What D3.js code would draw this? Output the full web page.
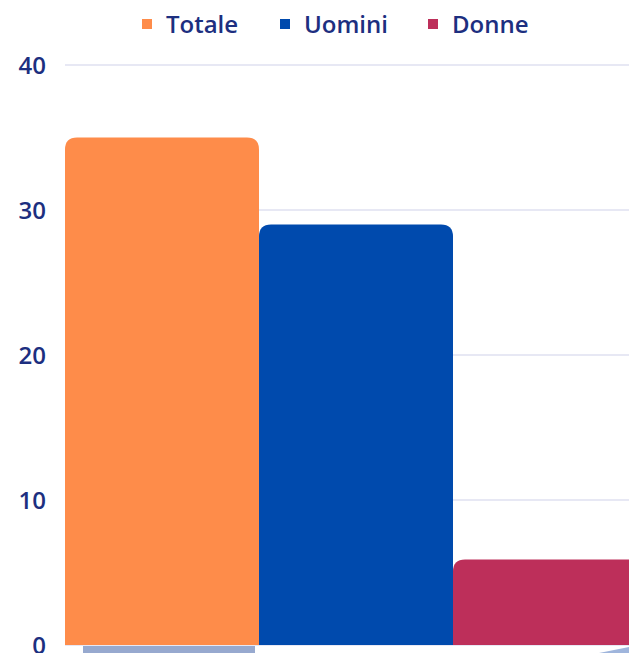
<html>
<head>
<script src="https://cdnjs.cloudflare.com/ajax/libs/d3/7.8.5/d3.min.js"></script>
<style>
  body { margin: 0; background: #fff; }
  svg { display: block; font-family: "Open Sans", "Noto Sans", sans-serif; }
  .tick text { fill: #1d2f80; font-family: "Open Sans", "Noto Sans", sans-serif; font-size: 24px; font-weight: 600; }
  .legendLabel { fill: #1d2f80; font-size: 24px; font-weight: 600; }
</style>
</head>
<body>
<div id="chart"></div>
<script>
// data
let seriesNames = ["Totale", "Uomini", "Donne"];
let seriesValues = [35, 29, 5.9];
let seriesColors = ["#fe8c4a", "#004aad", "#bd2f5a"];
let yTicks = [0, 10, 20, 30, 40];

let containerDim = { width: 629, height: 653 };
let margin = { top: 65, left: 65, bottom: 8 };

let svg = d3.select('#chart')
  .append('svg')
  .attr('width', containerDim.width)
  .attr('height', containerDim.height);

let plotBottom = containerDim.height - margin.bottom;

let y = d3.scaleLinear()
  .domain([0, 40])
  .range([plotBottom, margin.top]);

// bands run past the right edge of the picture (chart is cropped)
let x = d3.scaleBand()
  .domain(seriesNames)
  .range([margin.left, margin.left + 3 * 194])
  .padding(0);

// grid
svg.append('g')
  .selectAll('line')
  .data(yTicks)
  .enter()
  .append('line')
  .attr('x1', margin.left)
  .attr('x2', containerDim.width)
  .attr('y1', d => y(d))
  .attr('y2', d => y(d))
  .attr('stroke', '#dfe1f0')
  .attr('stroke-width', 1.5);

// y axis labels
let yAxis = d3.axisLeft(y).tickValues(yTicks).tickSize(0).tickPadding(0);
let yg = svg.append('g')
  .attr('transform', 'translate(46,0)')
  .call(yAxis)
  .attr('font-family', null);
yg.select('.domain').remove();
yg.selectAll('.tick text').attr('dy', '0.35em');

// bars with rounded top corners
function topRounded(x0, y0, w, h, r) {
  r = Math.min(r, h, w / 2);
  return 'M' + x0 + ',' + (y0 + h) +
    'V' + (y0 + r) +
    'Q' + x0 + ',' + y0 + ' ' + (x0 + r) + ',' + y0 +
    'H' + (x0 + w - r) +
    'Q' + (x0 + w) + ',' + y0 + ' ' + (x0 + w) + ',' + (y0 + r) +
    'V' + (y0 + h) + 'Z';
}

svg.append('g')
  .selectAll('path')
  .data(seriesNames)
  .enter()
  .append('path')
  .attr('d', (d, i) => topRounded(x(d), y(seriesValues[i]), x.bandwidth(), y(0) - y(seriesValues[i]), 12))
  .attr('fill', (d, i) => seriesColors[i]);

// bits of the next row peeking in at the bottom
svg.append('rect')
  .attr('x', x('Totale') + 18)
  .attr('y', y(0) + 1)
  .attr('width', x.bandwidth() - 22)
  .attr('height', 12)
  .attr('fill', '#97a9cf');
svg.append('path')
  .attr('d', 'M' + (containerDim.width - 30) + ',' + containerDim.height +
    'L' + containerDim.width + ',' + (y(0) + 2) +
    'V' + containerDim.height + 'Z')
  .attr('fill', '#9fb5dc');

// legend
let legendX = [142, 280, 428];
let legend = svg.append('g')
  .selectAll('g')
  .data(seriesNames)
  .enter()
  .append('g')
  .attr('transform', (d, i) => 'translate(' + legendX[i] + ',24)');
legend.append('rect')
  .attr('x', 0).attr('y', -5)
  .attr('width', 10).attr('height', 10)
  .attr('fill', (d, i) => seriesColors[i]);
legend.append('text')
  .attr('class', 'legendLabel')
  .attr('x', 24)
  .attr('dy', '0.36em')
  .text(d => d);
</script>
</body>
</html>
